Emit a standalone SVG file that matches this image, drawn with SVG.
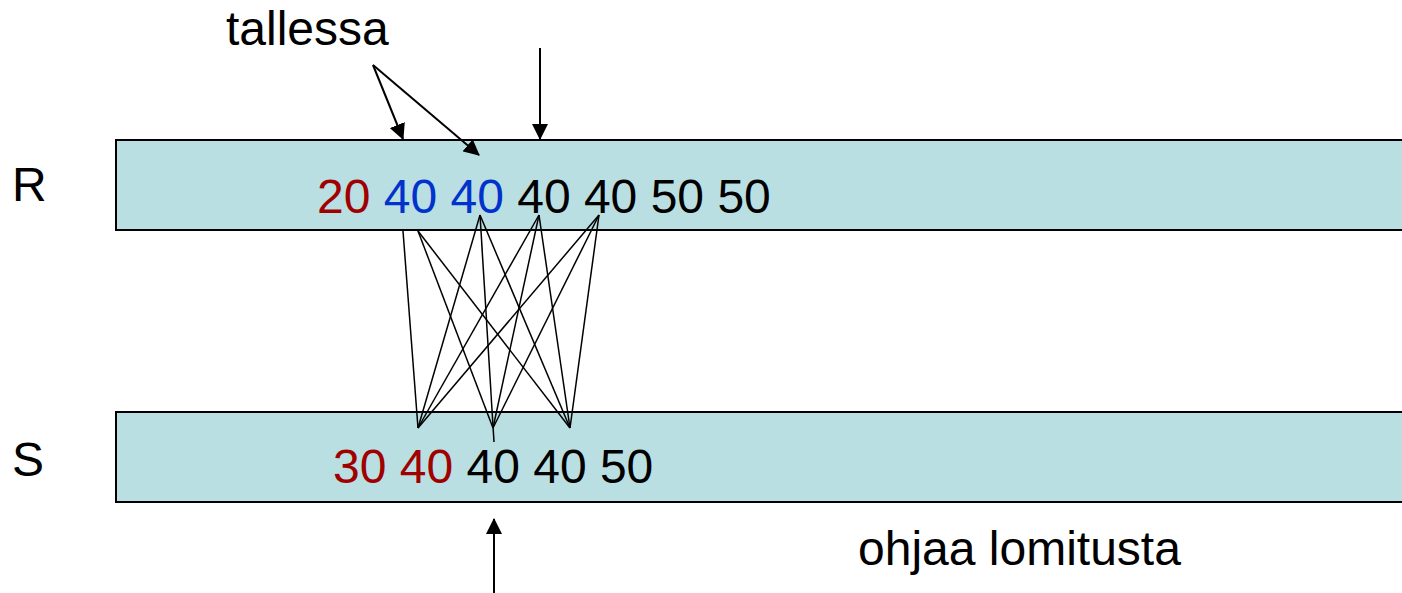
<svg xmlns="http://www.w3.org/2000/svg" width="1402" height="593" viewBox="0 0 1402 593">
<style>
.t{font-family:"Liberation Sans",Arial,sans-serif;font-size:48px;fill:#000}
.bar{fill:#BADFE2;stroke:#000;stroke-width:2}
.red{fill:#A00000}
.blue{fill:#0033CC}
.c{stroke:#000;stroke-width:1.5;fill:none}
.a{stroke:#000;stroke-width:2;fill:none;marker-end:url(#ah)}
</style>
<defs>
<marker id="ah" viewBox="0 0 16 16" refX="15" refY="8" markerWidth="16" markerHeight="16" markerUnits="userSpaceOnUse" orient="auto">
<path d="M0,0 L16,8 L0,16 z" fill="#000"/>
</marker>
</defs>
<rect width="1402" height="593" fill="#fff"/>
<g id="R">
<rect class="bar" x="116" y="140" width="1300" height="90"/>
<text class="t" x="12" y="201">R</text>
<text class="t" x="317" y="213"><tspan class="red">20</tspan> <tspan class="blue">40</tspan> <tspan class="blue">40</tspan> 40 40 50 50</text>
</g>
<g id="S">
<rect class="bar" x="116" y="412" width="1300" height="90"/>
<text class="t" x="12" y="476">S</text>
<text class="t" x="333" y="483"><tspan class="red">30</tspan> <tspan class="red">40</tspan> 40 40 50</text>
</g>
<g id="tallessa">
<text class="t" x="226" y="45">tallessa</text>
</g>
<g id="ohjaa">
<text class="t" x="858" y="565">ohjaa lomitusta</text>
</g>
<g id="connectors">
<line class="a" x1="373" y1="65" x2="403" y2="139"/>
<line class="a" x1="373" y1="65" x2="479" y2="155"/>
<line class="a" x1="540" y1="48" x2="540" y2="139"/>
<line class="a" x1="494" y1="593" x2="494" y2="519"/>
<line class="c" x1="403" y1="231" x2="418" y2="428"/>
<line class="c" x1="418" y1="231" x2="493" y2="428"/>
<line class="c" x1="418" y1="231" x2="570" y2="428"/>
<line class="c" x1="480" y1="215" x2="418" y2="428"/>
<line class="c" x1="480" y1="215" x2="494" y2="442"/>
<line class="c" x1="480" y1="215" x2="570" y2="428"/>
<line class="c" x1="539" y1="215" x2="418" y2="428"/>
<line class="c" x1="539" y1="215" x2="493" y2="428"/>
<line class="c" x1="539" y1="215" x2="570" y2="428"/>
<line class="c" x1="599" y1="215" x2="418" y2="428"/>
<line class="c" x1="599" y1="215" x2="493" y2="428"/>
<line class="c" x1="599" y1="215" x2="570" y2="428"/>
</g>
</svg>
